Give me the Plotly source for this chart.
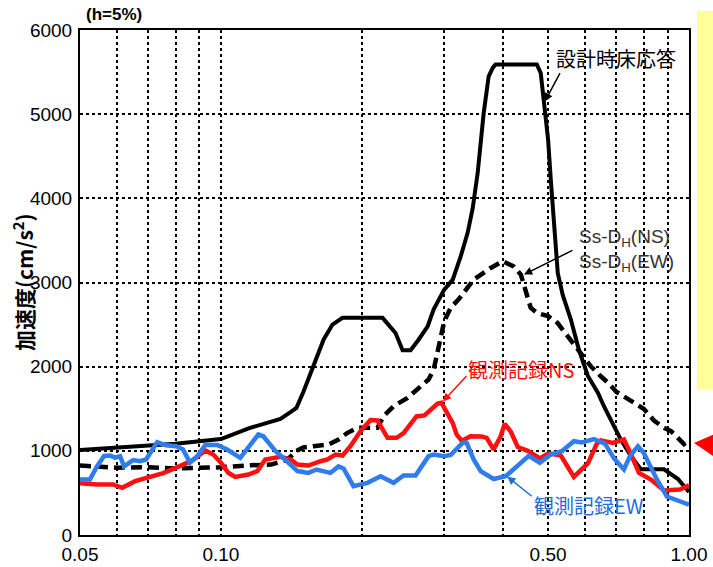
import math
import plotly.graph_objects as go

# Design floor response spectrum (h=5%)
design_period = [0.05, 0.06, 0.07, 0.08, 0.09, 0.10, 0.115, 0.1256, 0.134, 0.1408, 0.145, 0.150,
                 0.1577, 0.1657, 0.1731, 0.1819, 0.2215, 0.2361, 0.2444, 0.2542, 0.2644, 0.2765, 0.2848,
                 0.30, 0.3128, 0.3253, 0.3366, 0.345, 0.3536, 0.3642, 0.3733, 0.3808, 0.386,
                 0.473, 0.4822, 0.4894, 0.50, 0.5067, 0.5142, 0.5244, 0.5375, 0.5593, 0.5818,
                 0.6081, 0.6387, 0.658, 0.7154, 0.7516, 0.7896, 0.8842, 0.9474, 1.0]
design_accel = [1010, 1040, 1055, 1085, 1115, 1140, 1270, 1340, 1380, 1460, 1510, 1700,
                2005, 2320, 2500, 2580, 2580, 2400, 2195, 2195, 2320, 2480, 2680,
                2915, 3034, 3310, 3590, 3880, 4300, 5010, 5450, 5550, 5590,
                5590, 5490, 5190, 4700, 4220, 3670, 3110, 2850, 2560, 2200,
                1890, 1690, 1530, 1130, 936, 780, 780, 665, 510]

# Ss-DH (NS / EW share one curve)
ss_period = [0.05, 0.055, 0.06, 0.07, 0.08, 0.09, 0.10, 0.1156, 0.128, 0.1375, 0.1408, 0.145, 0.150,
             0.1577, 0.1696, 0.1783, 0.1864, 0.1958, 0.2, 0.216, 0.2226, 0.2338,
             0.2505, 0.267, 0.2777, 0.2848, 0.2903, 0.2946, 0.30, 0.3096, 0.322,
             0.3467, 0.377, 0.40, 0.422, 0.4372, 0.448, 0.459, 0.473, 0.50,
             0.5238, 0.5502, 0.578, 0.617, 0.648, 0.6745, 0.70, 0.7407, 0.80,
             0.8418, 0.8842, 0.9153, 0.95, 0.9759, 1.0]
ss_accel = [825, 815, 800, 805, 790, 798, 805, 828, 837, 890, 930, 1000, 1040,
            1055, 1075, 1134, 1214, 1273, 1273, 1273, 1411, 1530,
            1630, 1767, 1847, 1965, 2164, 2361, 2540, 2700, 2800,
            3034, 3173, 3252, 3192, 3094, 2916, 2700, 2639, 2600,
            2520, 2361, 2203, 2005, 1886, 1800, 1700, 1609, 1500,
            1360, 1273, 1233, 1134, 1080, 1114]

# Observed record, NS
ns_period = [0.05, 0.0544, 0.0588, 0.0615, 0.0656, 0.0706, 0.0753, 0.0810, 0.0872, 0.0926,
             0.0963, 0.10, 0.1037, 0.1073, 0.1145, 0.1196, 0.1244, 0.134, 0.1408, 0.1457,
             0.1538, 0.1632, 0.1689, 0.1757, 0.1819, 0.1891, 0.1987, 0.2087, 0.2160, 0.2270,
             0.2373, 0.2456, 0.2529, 0.2617, 0.2722, 0.2806, 0.2903, 0.2960, 0.3019, 0.3128,
             0.3188, 0.3268, 0.3415, 0.3607, 0.3697, 0.3770, 0.3826, 0.3960, 0.4039, 0.4160,
             0.4307, 0.4525, 0.4800, 0.5009, 0.5324, 0.5676, 0.6081, 0.6355, 0.648, 0.6874,
             0.7260, 0.7516, 0.7818, 0.8294, 0.8842, 0.9561, 1.0]
ns_accel = [615, 600, 600, 560, 640, 685, 735, 810, 890, 1005,
            956, 860, 740, 690, 718, 758, 897, 930, 900, 837,
            825, 877, 897, 956, 944, 1055, 1233, 1365, 1360, 1154,
            1154, 1210, 1300, 1408, 1420, 1480, 1560, 1570, 1480, 1330,
            1194, 1120, 1173, 1170, 1154, 1070, 1015, 1173, 1320, 1230,
            1045, 1000, 910, 970, 945, 690, 850, 1085, 1125, 1095,
            1134, 960, 738, 659, 530, 540, 590]

# Observed record, EW
ew_period = [0.05, 0.0525, 0.0544, 0.0563, 0.0580, 0.0594, 0.0609, 0.0621, 0.0649, 0.0672,
             0.0692, 0.0731, 0.0764, 0.0802, 0.0830, 0.0859, 0.0890, 0.0926, 0.0982, 0.1031,
             0.1100, 0.1156, 0.1202, 0.1232, 0.1307, 0.1387, 0.1457, 0.1538, 0.1600, 0.1714,
             0.1783, 0.1828, 0.1919, 0.2057, 0.2193, 0.2338, 0.2456, 0.2605, 0.2777, 0.2848,
             0.30, 0.3096, 0.3284, 0.3349, 0.3467, 0.3589, 0.3826, 0.4059, 0.4264, 0.4547,
             0.4800, 0.5067, 0.5349, 0.5676, 0.5903, 0.6265, 0.6612, 0.6918, 0.7260, 0.7478,
             0.7779, 0.80, 0.8502, 0.8976, 0.9561, 1.0]
ew_accel = [660, 660, 817, 940, 944, 920, 936, 815, 890, 877,
            897, 1102, 1065, 1055, 1015, 860, 936, 1070, 1070, 1015,
            917, 1075, 1194, 1173, 1000, 870, 760, 738, 778, 738,
            815, 790, 580, 620, 698, 620, 707, 708, 936, 956,
            936, 950, 1095, 1095, 897, 758, 665, 698, 800, 940,
            857, 956, 995, 1114, 1100, 1140, 1085, 910, 778, 936,
            1055, 976, 680, 455, 401, 362]

x_major = [0.05, 0.10, 0.50, 1.00]
x_major_text = ["0.05", "0.10", "0.50", "1.00"]
x_minor = [0.06, 0.07, 0.08, 0.09, 0.2, 0.3, 0.4, 0.6, 0.7, 0.8, 0.9]
y_ticks = [0, 1000, 2000, 3000, 4000, 5000, 6000]

RED = "#ff1010"
BLUE = "#2f7ced"
BLUE_TXT = "#1f6fd6"
LATIN = "Arial, 'Liberation Sans', 'Noto Sans CJK JP', sans-serif"
CJK = "'Noto Sans CJK JP', Arial, sans-serif"

W, H = 713, 567
ML, MR, MT, MB = 80, 24, 30, 32
PW, PH = W - ML - MR, H - MT - MB


def at(px, py):
    """Page pixel -> paper coordinates."""
    return (px - ML) / PW, (H - MB - py) / PH


fig = go.Figure()
fig.add_trace(go.Scatter(x=ss_period, y=ss_accel, mode="lines",
                         line=dict(color="black", width=4.5, dash="11px,6px")))
fig.add_trace(go.Scatter(x=design_period, y=design_accel, mode="lines",
                         line=dict(color="black", width=4)))
fig.add_trace(go.Scatter(x=ns_period, y=ns_accel, mode="lines",
                         line=dict(color=RED, width=4.5)))
fig.add_trace(go.Scatter(x=ew_period, y=ew_accel, mode="lines",
                         line=dict(color=BLUE, width=4.5)))

grid = dict(showgrid=True, gridcolor="black", gridwidth=2, griddash="3px,3px")

fig.update_xaxes(type="log", range=[math.log10(0.05), 0], automargin=False,
                 tickvals=x_major, ticktext=x_major_text, ticks="",
                 ticklabelstandoff=1,
                 tickfont=dict(family=LATIN, size=19, color="black"),
                 showline=True, linecolor="black", linewidth=2, mirror=True,
                 zeroline=False,
                 minor=dict(tickvals=x_minor, ticks="", **grid), **grid)
fig.update_yaxes(range=[0, 6000], tickvals=y_ticks, ticks="", automargin=False,
                 ticklabelstandoff=2,
                 tickfont=dict(family=LATIN, size=19, color="black"),
                 showline=True, linecolor="black", linewidth=2, mirror=True,
                 zeroline=False, **grid)

annotations = []


def label(px, py, text, color="black", size=18, family=CJK, xanchor="left", angle=0,
          weight="normal"):
    x, y = at(px, py)
    annotations.append(dict(xref="paper", yref="paper", x=x, y=y, text=text,
                            showarrow=False, xanchor=xanchor, yanchor="middle",
                            textangle=angle, align="left",
                            font=dict(family=family, size=size, color=color, weight=weight)))


def pointer(period, accel, dx, dy, color):
    annotations.append(dict(xref="x", yref="y", x=math.log10(period), y=accel, text="",
                            showarrow=True, ax=dx, ay=dy, arrowhead=2, arrowsize=1.1,
                            arrowwidth=1.5, arrowcolor=color))


label(84, 15, "(h=5%)", size=17, family=LATIN, weight="bold")
label(23, 283, "加速度(cm/s<sup>2</sup>)", size=21, xanchor="center", angle=-90, weight="bold")
label(554, 58, "設計時床応答", size=20)
label(577, 250, "Ss-D<sub>H</sub>(NS)<br>Ss-D<sub>H</sub>(EW)", size=19, family=LATIN,
      color="#333333")
label(466, 370, "観測記録NS", color=RED, size=20)
label(532, 505, "観測記録EW", color=BLUE_TXT, size=20)

pointer(0.492, 5150, 16, -30, "black")
pointer(0.444, 3094, 50, -25, "black")
pointer(0.298, 1585, 25, -27, RED)
pointer(0.409, 695, 26, 21, BLUE_TXT)

# side band and marker outside the plotting area
bx0, by0 = at(697, 389)
bx1, by1 = at(714, 11)
tx0, ty0 = at(694, 443)
tx1, ty1 = at(715, 434)
tx2, ty2 = at(713, 456)
shapes = [
    dict(type="rect", xref="paper", yref="paper", x0=bx0, y0=by0, x1=bx1, y1=by1,
         fillcolor="#ffff99", line=dict(width=0), layer="below"),
    dict(type="path", xref="paper", yref="paper",
         path=f"M {tx0},{ty0} L {tx1},{ty1} L {tx2},{ty2} Z",
         fillcolor="#ff0000", line=dict(width=0)),
]

fig.update_layout(width=W, height=H, margin=dict(l=ML, r=MR, t=MT, b=MB),
                  plot_bgcolor="white", paper_bgcolor="white", showlegend=False,
                  annotations=annotations, shapes=shapes)

fig.write_html("out.html")
